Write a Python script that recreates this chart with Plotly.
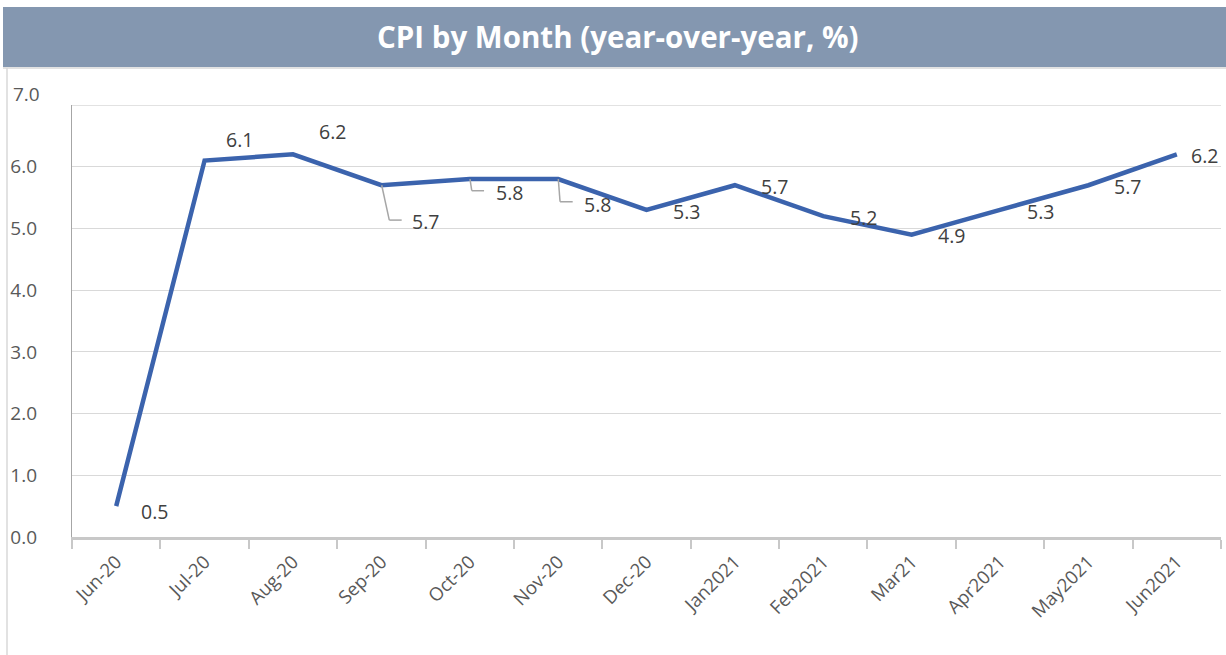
import plotly.graph_objects as go

# ---- data ----
months = ["Jun-20", "Jul-20", "Aug-20", "Sep-20", "Oct-20", "Nov-20", "Dec-20",
          "Jan2021", "Feb2021", "Mar21", "Apr2021", "May2021", "Jun2021"]
cpi = [0.5, 6.1, 6.2, 5.7, 5.8, 5.8, 5.3, 5.7, 5.2, 4.9, 5.3, 5.7, 6.2]
y_ticks = [0, 1, 2, 3, 4, 5, 6]
title_text = "CPI by Month (year-over-year, %)"

# ---- layout geometry (pixels) ----
W, H = 1226, 655
L, R, T, B = 72, 5, 105, 118
PW, PH = W - L - R, H - T - B

def px_x(px):
    return (px - L) / PW

def px_y(py):
    return (H - B - py) / PH

LINE_COLOR = "#3b63ad"
FONT = "Open Sans"

# label offsets (xshift, yshift) in pixels relative to each point; label left-anchored
label_offsets = [(23, -5), (19, 21), (24, 23), (29, -36), (24, -13), (24, -25),
                 (24, -2), (24, -1), (25, -1), (24, -1), (25, -2), (24, -1), (12, -1)]

fig = go.Figure()
fig.add_trace(go.Scatter(
    x=months, y=cpi, mode="lines",
    line=dict(color=LINE_COLOR, width=4.5),
    hoverinfo="x+y", showlegend=False,
))

annotations = []
for m, v, (dx, dy) in zip(months, cpi, label_offsets):
    annotations.append(dict(
        x=m, y=v, xref="x", yref="y", text=f"{v:.1f}", showarrow=False,
        xanchor="left", yanchor="middle", xshift=dx, yshift=dy,
        font=dict(family=FONT, size=19.5, color="#404040"),
    ))

# title text
annotations.append(dict(
    x=px_x(W / 2 + 5), y=px_y(37), xref="paper", yref="paper", text=f"<b>{title_text}</b>",
    showarrow=False, xanchor="center", yanchor="middle",
    font=dict(family=FONT, size=29.5, color="white"),
))
# top tick label (sits slightly higher than its gridline)
annotations.append(dict(
    x=px_x(42), y=7, xref="paper", yref="y", text="7.0", showarrow=False,
    xanchor="right", yanchor="middle", yshift=11,
    font=dict(family=FONT, size=19, color="#595959"),
))

shapes = [
    # title bar
    dict(type="rect", xref="paper", yref="paper", x0=px_x(3), x1=px_x(W + 2),
         y0=px_y(67), y1=px_y(7), fillcolor="#8497b0", line=dict(width=0), layer="below"),
    dict(type="line", xref="paper", yref="paper", x0=px_x(3), x1=px_x(W + 2),
         y0=px_y(68), y1=px_y(68), line=dict(color="#d9d9d9", width=1.5)),
    # outer chart border (left)
    dict(type="line", xref="paper", yref="paper", x0=px_x(7), x1=px_x(7),
         y0=px_y(68), y1=px_y(H + 2), line=dict(color="#d9d9d9", width=1.5)),
]

# leader lines for the labels that were pulled away from their points
leaders = [
    (3, [(3.004, 5.70), (3.090, 5.135), (3.230, 5.135)]),
    (4, [(4.003, 5.80), (4.023, 5.611), (4.162, 5.611)]),
    (5, [(5.002, 5.80), (5.022, 5.432), (5.165, 5.432)]),
]
for _, pts in leaders:
    for (xa, ya), (xb, yb) in zip(pts[:-1], pts[1:]):
        shapes.append(dict(type="line", xref="x", yref="y", x0=xa, y0=ya, x1=xb, y1=yb,
                           line=dict(color="#a6a6a6", width=1.5)))

fig.update_layout(
    width=W, height=H,
    margin=dict(l=L, r=R, t=T, b=B, pad=0),
    paper_bgcolor="white", plot_bgcolor="white",
    font=dict(family=FONT, color="#595959"),
    annotations=annotations, shapes=shapes,
    xaxis=dict(
        type="category", categoryorder="array", categoryarray=months,
        tickson="boundaries", ticks="outside", ticklen=9, tickwidth=2, tickcolor="#c8c8c8",
        showline=True, linecolor="#c8c8c8", linewidth=2.5,
        showgrid=False, tickangle=-45, tickfont=dict(family=FONT, size=18.5, color="#595959"),
        ticklabelstandoff=4,
        range=[-0.5, 12.5], fixedrange=True,
    ),
    yaxis=dict(
        range=[0, 7], tickvals=y_ticks, ticktext=[f"{t:.1f}" for t in y_ticks],
        showgrid=True, gridcolor="#d9d9d9", gridwidth=1.3,
        showline=True, linecolor="#a6a6a6", linewidth=1.3,
        ticks="", ticklabelstandoff=30,
        tickfont=dict(family=FONT, size=19, color="#595959"),
        zeroline=False, fixedrange=True,
    ),
)
# gridline at 7.0 (top)
fig.add_shape(type="line", xref="paper", yref="y", x0=0, x1=1, y0=7, y1=7,
              line=dict(color="#d9d9d9", width=1.3), layer="below")

fig.write_html("out.html", config={"displayModeBar": False},
               post_script="document.body.style.margin='0';document.body.style.overflow='hidden';")
